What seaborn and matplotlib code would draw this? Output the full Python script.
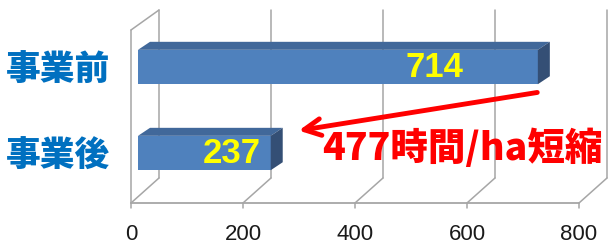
import matplotlib
matplotlib.use("Agg")
import matplotlib.pyplot as plt
import seaborn as sns
from matplotlib.patches import Polygon

# data
stages = ["事業前", "事業後"]
hours = [714, 237]
xticks = [0, 200, 400, 600, 800]
note = "477時間/ha短縮"

sns.set_theme(style="white")
plt.rcParams["font.family"] = ["Noto Sans CJK JP", "DejaVu Sans"]

fig = plt.figure(figsize=(6.14, 2.46), dpi=100)
ax = fig.add_axes([131 / 614, 43 / 246, 448 / 614, 193 / 246])

sns.barplot(x=hours, y=stages, orient="h", color="#4F81BD", saturation=1,
            width=0.4, ax=ax, zorder=3)

ax.set_xlim(0, 800)
ax.set_ylim(1.581, -0.663)

# pixel -> data units
UX = 800 / 448
UY = 1 / 86
shift = 7 * UX          # bar front face sits a little behind the front plane
bdx, bdy = 12 * UX, 8 * UY   # bar depth
wdx, wdy = 28 * UX, 25 * UY  # wall depth
floor = 1.581
top = -0.663
grid_c = "#A6A6A6"

# walls / floor gridlines
for v in xticks:
    ax.plot([v, v + wdx], [floor, floor - wdy], color=grid_c, lw=1.1, clip_on=False, zorder=1)
    ax.plot([v + wdx, v + wdx], [floor - wdy, top], color=grid_c, lw=1.1, clip_on=False, zorder=1)
    ax.plot([v, v], [floor, floor + 5 * UY], color=grid_c, lw=1.1, clip_on=False, zorder=1)
ax.plot([0, 800], [floor, floor], color=grid_c, lw=1.3, clip_on=False, zorder=1)
ax.plot([0, 0], [floor, top + 20 * UY], color=grid_c, lw=1.1, clip_on=False, zorder=1)
ax.plot([0, wdx], [top + 20 * UY, top], color=grid_c, lw=1.1, clip_on=False, zorder=1)

# 3D faces of the bars
for p, v in zip(ax.patches, hours):
    p.set_x(shift)
    p.set_edgecolor("none")
    y0, y1 = p.get_y(), p.get_y() + p.get_height()
    x0, x1 = shift, shift + v
    ax.add_patch(Polygon([(x0, y0), (x1, y0), (x1 + bdx, y0 - bdy), (x0 + bdx, y0 - bdy)],
                         closed=True, facecolor="#41689A", edgecolor="none", zorder=3))
    ax.add_patch(Polygon([(x1, y0), (x1, y1), (x1 + bdx, y1 - bdy), (x1 + bdx, y0 - bdy)],
                         closed=True, facecolor="#344F75", edgecolor="none", zorder=3))

# value labels
for i, v in enumerate(hours):
    ax.text(v * 0.76, i, str(v), color="#FFFF00", fontsize=25, fontweight="bold",
            family=["Liberation Sans"], ha="center", va="center", zorder=5)

for s in ax.spines.values():
    s.set_visible(False)
ax.set_xticks(xticks)
ax.set_xticklabels([str(t) for t in xticks], fontsize=16, family=["Liberation Sans"], color="#1A1A1A")
ax.tick_params(axis="x", length=0, pad=15)
ax.tick_params(axis="y", length=0, pad=15)
for lab in ax.get_yticklabels():
    lab.set_fontsize(25)
    lab.set_fontweight("heavy")
    lab.set_color("#0070C0")
ax.set_xlabel("")
ax.set_ylabel("")
ax.grid(False)

# reduction arrow
ax.annotate("", xy=((296 - 131) * UX, (131 - 67) * UY), xytext=((540 - 131) * UX, (92 - 67) * UY),
            arrowprops=dict(arrowstyle="->", color="#FF0000", lw=3.5, mutation_scale=30),
            annotation_clip=False, zorder=6)
ax.text((462 - 131) * UX, (148 - 67) * UY, note, color="#FF0000", fontsize=27,
        fontweight="heavy", ha="center", va="center", zorder=6, clip_on=False)

fig.savefig("out.png", dpi=100)
